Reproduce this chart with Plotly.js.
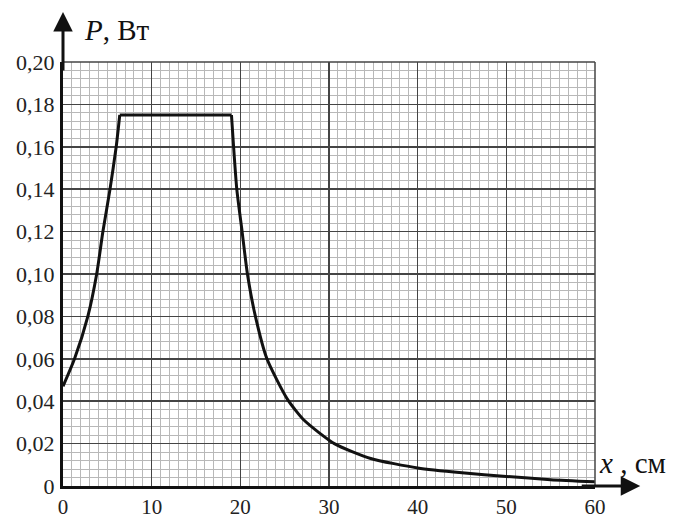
<!DOCTYPE html>
<html>
<head>
<meta charset="utf-8">
<script src="https://cdn.plot.ly/plotly-3.0.1.min.js"></script>
<style>html,body{margin:0;padding:0;background:#fff;}#chart{width:680px;height:520px;}</style>
</head>
<body>
<div id="chart"></div>
<script>
// Rising branch (x, см ; P, Вт)
const xRise = [0, 1.3, 2.8, 3.8, 4.5, 5.3, 6.0, 6.4];
const pRise = [0.047, 0.060, 0.080, 0.100, 0.120, 0.140, 0.160, 0.175];
// Plateau
const xFlat = [6.4, 19.0];
const pFlat = [0.175, 0.175];
// Falling branch
const xFall = [19.0, 19.6, 20.2, 20.8, 21.7, 23.0, 25.3, 27.2, 30.6, 34.7, 40.0, 45.0, 50.0, 55.0, 60.0];
const pFall = [0.175, 0.140, 0.120, 0.100, 0.080, 0.060, 0.041, 0.031, 0.020, 0.013, 0.0085, 0.0062, 0.0045, 0.003, 0.002];
// Tick labels
const xTickVals = [0, 10, 20, 30, 40, 50, 60];
const xTickText = ["0", "10", "20", "30", "40", "50", "60"];
const yTickVals = [0, 0.02, 0.04, 0.06, 0.08, 0.10, 0.12, 0.14, 0.16, 0.18, 0.20];
const yTickText = ["0", "0,02", "0,04", "0,06", "0,08", "0,10", "0,12", "0,14", "0,16", "0,18", "0,20"];

const lineStyle = {color: '#111', width: 3};
const traces = [
  {x: xRise, y: pRise, mode: 'lines', line: Object.assign({shape: 'spline', smoothing: 0.6}, lineStyle), hoverinfo: 'skip'},
  {x: xFlat, y: pFlat, mode: 'lines', line: lineStyle, hoverinfo: 'skip'},
  {x: xFall, y: pFall, mode: 'lines', line: Object.assign({shape: 'spline', smoothing: 0.6}, lineStyle), hoverinfo: 'skip'}
];

const serif = 'Liberation Serif, Times New Roman, serif';
const layout = {
  width: 680, height: 520,
  margin: {l: 63, r: 85, t: 62, b: 34},
  showlegend: false,
  paper_bgcolor: '#fff', plot_bgcolor: '#fff',
  font: {family: serif, color: '#222', size: 21},
  xaxis: {
    range: [0, 60], tickvals: xTickVals, ticktext: xTickText,
    showgrid: true, gridcolor: '#444', gridwidth: 1.5,
    minor: {dtick: 1, showgrid: true, gridcolor: '#b8b8b8', gridwidth: 1},
    zeroline: false, showline: true, linecolor: '#111', linewidth: 3,
    ticks: '', ticklen: 0,
    tickfont: {family: serif, size: 21, color: '#222'}, fixedrange: true
  },
  yaxis: {
    range: [0, 0.2], tickvals: yTickVals, ticktext: yTickText,
    showgrid: true, gridcolor: '#444', gridwidth: 1.5,
    minor: {dtick: 0.004, showgrid: true, gridcolor: '#b8b8b8', gridwidth: 1},
    zeroline: false, showline: true, linecolor: '#111', linewidth: 3,
    ticks: 'outside', ticklen: 1, tickcolor: 'rgba(0,0,0,0)',
    tickfont: {family: serif, size: 22, color: '#222'}, fixedrange: true
  },
  shapes: [
    {type: 'line', xref: 'paper', yref: 'paper', x0: 0, x1: 1, y0: 1, y1: 1, line: {color: '#444', width: 1.5}},
    {type: 'line', xref: 'paper', yref: 'paper', x0: 1, x1: 1, y0: 0, y1: 1, line: {color: '#444', width: 1.5}}
  ],
  annotations: [
    // y axis arrow
    {xref: 'paper', yref: 'paper', x: 0, y: 1.118, ax: 0, ay: 60, showarrow: true,
     arrowhead: 2, arrowsize: 1.3, arrowwidth: 3, arrowcolor: '#111', text: ''},
    // x axis arrow
    {xref: 'paper', yref: 'paper', x: 1.085, y: 0, ax: -60, ay: 0, showarrow: true,
     arrowhead: 2, arrowsize: 1.3, arrowwidth: 3, arrowcolor: '#111', text: ''},
    {xref: 'paper', yref: 'paper', x: 0.036, y: 1.075, xanchor: 'left', yanchor: 'middle', showarrow: false,
     text: '<i>P</i>, Вт', font: {family: serif, size: 29, color: '#111'}},
    {xref: 'paper', yref: 'paper', x: 1.003, y: 0.055, xanchor: 'left', yanchor: 'middle', showarrow: false,
     text: '<i>x</i> , см', font: {family: serif, size: 29, color: '#111'}}
  ]
};

Plotly.newPlot('chart', traces, layout, {staticPlot: true, displayModeBar: false});
</script>
</body>
</html>
